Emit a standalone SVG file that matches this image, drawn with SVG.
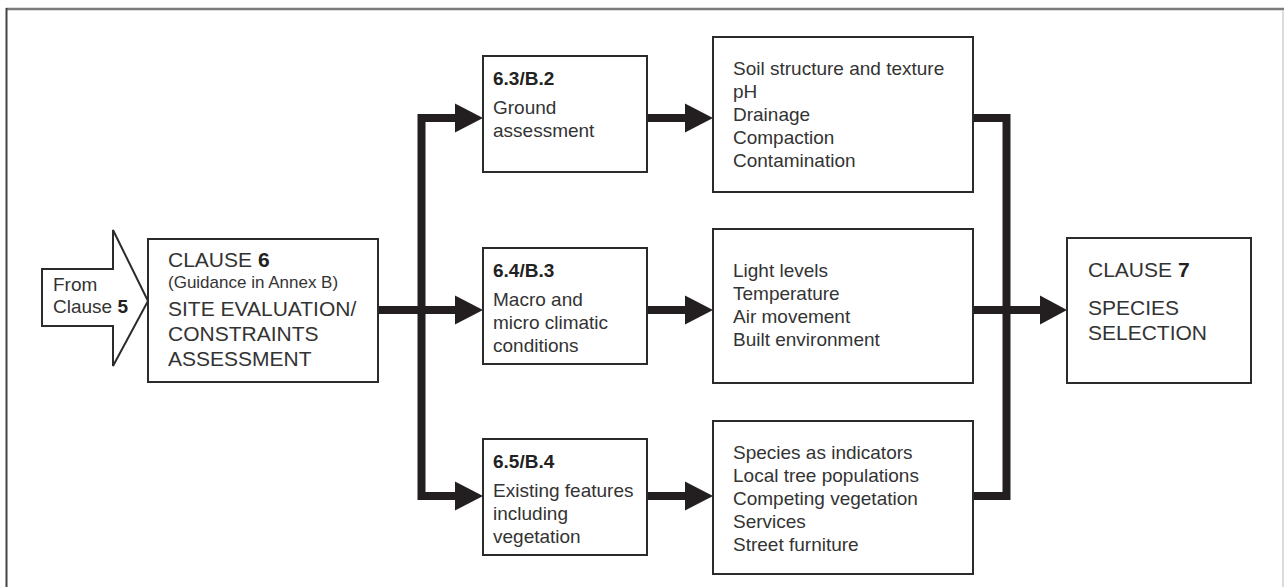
<svg xmlns="http://www.w3.org/2000/svg" width="1284" height="587" viewBox="0 0 1284 587">
<style>
.box{fill:#fff;stroke:#2b2b2b;stroke-width:2}
.t{font-family:"Liberation Sans",Arial,Helvetica,sans-serif;font-size:19px;fill:#333}
.b{font-weight:bold;fill:#222}
.big{font-size:21px}
.sm{font-size:17px}
.con{fill:none;stroke:#231f20;stroke-width:8;stroke-linejoin:miter}
.ah{fill:#231f20}
</style>
<rect x="0" y="0" width="1284" height="587" fill="#fff"/>
<g id="frame">
<line x1="6" y1="9" x2="1284" y2="9" stroke="#7a7a7a" stroke-width="2.5"/>
<line x1="6.5" y1="8" x2="6.5" y2="587" stroke="#444" stroke-width="2"/>
<line x1="1283" y1="10" x2="1283" y2="587" stroke="#d0d0d0" stroke-width="1.5"/>
</g>
<g id="connectors">
<path class="con" d="M378,310 H457"/>
<path class="con" d="M457,118 H421.5 V496 H457"/>
<path class="con" d="M647,118 H687 M647,310 H687 M647,496 H687"/>
<path class="con" d="M973,118 H1006.5 V496 H973 M973,310 H1042"/>
<polygon class="ah" points="455,103.5 483,118 455,132.5"/>
<polygon class="ah" points="455,295.5 483,310 455,324.5"/>
<polygon class="ah" points="455,481.5 483,496 455,510.5"/>
<polygon class="ah" points="685,103.5 713,118 685,132.5"/>
<polygon class="ah" points="685,295.5 713,310 685,324.5"/>
<polygon class="ah" points="685,481.5 713,496 685,510.5"/>
<polygon class="ah" points="1040,295.5 1067,310 1040,324.5"/>
</g>
<g id="from-clause5">
<polygon points="42,269 113,269 113,230 148,301 113,366 113,326 42,326" fill="#fff" stroke="#2b2b2b" stroke-width="2" stroke-linejoin="miter"/>
<text class="t" x="53" y="291">From</text>
<text class="t" x="53" y="313">Clause <tspan class="b">5</tspan></text>
</g>
<g id="clause6">
<rect class="box" x="148" y="239" width="230" height="143"/>
<text class="t big" x="168" y="267">CLAUSE <tspan class="b">6</tspan></text>
<text class="t sm" x="168" y="288">(Guidance in Annex B)</text>
<text class="t big" x="168" y="316">SITE EVALUATION/</text>
<text class="t big" x="168" y="341">CONSTRAINTS</text>
<text class="t big" x="168" y="366">ASSESSMENT</text>
</g>
<g id="n63">
<rect class="box" x="483" y="56" width="164" height="116"/>
<text class="t b" x="493" y="85">6.3/B.2</text>
<text class="t" x="493" y="114">Ground</text>
<text class="t" x="493" y="137">assessment</text>
</g>
<g id="n64">
<rect class="box" x="483" y="248" width="164" height="116"/>
<text class="t b" x="493" y="277">6.4/B.3</text>
<text class="t" x="493" y="306">Macro and</text>
<text class="t" x="493" y="329">micro climatic</text>
<text class="t" x="493" y="352">conditions</text>
</g>
<g id="n65">
<rect class="box" x="483" y="439" width="164" height="116"/>
<text class="t b" x="493" y="468">6.5/B.4</text>
<text class="t" x="493" y="497">Existing features</text>
<text class="t" x="493" y="520">including</text>
<text class="t" x="493" y="543">vegetation</text>
</g>
<g id="ground-list">
<rect class="box" x="713" y="37" width="260" height="155"/>
<text class="t" x="733" y="75">Soil structure and texture</text>
<text class="t" x="733" y="98">pH</text>
<text class="t" x="733" y="121">Drainage</text>
<text class="t" x="733" y="144">Compaction</text>
<text class="t" x="733" y="167">Contamination</text>
</g>
<g id="climate-list">
<rect class="box" x="713" y="229" width="260" height="154"/>
<text class="t" x="733" y="277">Light levels</text>
<text class="t" x="733" y="300">Temperature</text>
<text class="t" x="733" y="323">Air movement</text>
<text class="t" x="733" y="346">Built environment</text>
</g>
<g id="features-list">
<rect class="box" x="713" y="421" width="260" height="153"/>
<text class="t" x="733" y="459">Species as indicators</text>
<text class="t" x="733" y="482">Local tree populations</text>
<text class="t" x="733" y="505">Competing vegetation</text>
<text class="t" x="733" y="528">Services</text>
<text class="t" x="733" y="551">Street furniture</text>
</g>
<g id="clause7">
<rect class="box" x="1067" y="238" width="184" height="145"/>
<text class="t big" x="1088" y="277">CLAUSE <tspan class="b">7</tspan></text>
<text class="t big" x="1088" y="315">SPECIES</text>
<text class="t big" x="1088" y="340">SELECTION</text>
</g>
</svg>
